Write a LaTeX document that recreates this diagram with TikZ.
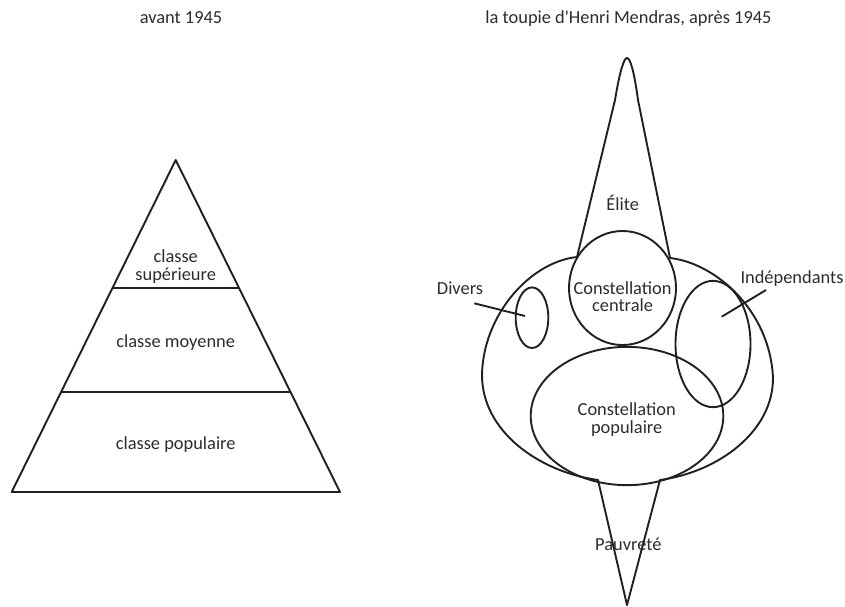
\documentclass[tikz,border=0pt]{standalone}
\usepackage{fontspec}
\setmainfont{Carlito}[Ligatures=TeXOff]
\usetikzlibrary{positioning,shapes.geometric,calc}
\definecolor{inkgray}{HTML}{231F20}
\definecolor{textgray}{HTML}{2C2C2C}

\begin{document}
\begin{tikzpicture}[x=1pt,y=-1pt,line width=1.9pt,line join=round,
  label node/.style={inner sep=0pt,anchor=base,align=center,text=textgray,font=\fontsize{18.4}{17.6}\selectfont},
  group node/.style={ellipse,draw=inkgray,inner sep=0pt,line width=1.9pt}]

  \useasboundingbox (0,0) rectangle (845,606);

  % titres
  \node[label node] (avant) at (181,23.3) {avant 1945};
  \node[label node] (apres) at (628.5,23.3) {la toupie d'Henri Mendras, après 1945};

  % pyramide
  \coordinate (apex) at (175.7,160);
  \coordinate (bl) at (11.7,492);
  \coordinate (br) at (340,492);
  \draw[inkgray] (apex) -- (br) -- (bl) -- cycle;
  \draw[inkgray] ($(apex)!0.385!(bl)$) -- ($(apex)!0.385!(br)$);
  \draw[inkgray] ($(apex)!0.700!(bl)$) -- ($(apex)!0.700!(br)$);

  \node[label node] (sup) at (175.7,280) {classe\\supérieure};
  \node[label node] (moy) at (175.7,347.5) {classe moyenne};
  \node[label node] (pop) at (175.7,449.5) {classe populaire};

  % toupie
  \draw[inkgray] (577,257) .. controls (530,262) and (483,315) .. (482,375)
    .. controls (482,432) and (540,472) .. (598,480) -- (627,605) -- (660,480)
    .. controls (718,472) and (773,432) .. (773,378)
    .. controls (770,310) and (715,263) .. (670,258) -- (638,100)
    .. controls (634,70) and (630,58) .. (627,58)
    .. controls (624,58) and (620,70) .. (615,100) -- cycle;

  \node[group node, minimum width=107, minimum height=114] (centrale) at (622.5,288) {};
  \node[group node, minimum width=32.6, minimum height=60.6] (divers) at (532,317.7) {};
  \node[group node, minimum width=75, minimum height=126.3] (indep) at (713,344) {};
  \node[group node, minimum width=192.6, minimum height=138.3] (populaire) at (627,416) {};

  \node[label node] (elite) at (622.7,210) {Élite};
  \node[label node] (centrale txt) at (622.5,311.7) {Constellation\\centrale};
  \node[label node] (populaire txt) at (626.7,433.3) {Constellation\\populaire};
  \node[label node] (pauvrete) at (628.3,550.7) {Pauvreté};
  \node[label node] (divers txt) at (460,294) {Divers};
  \node[label node] (indep txt) at (792,283.3) {Indépendants};

  \coordinate (divers a) at (474.3,303.3);
  \coordinate (divers b) at (525,316);
  \coordinate (indep a) at (766,290);
  \coordinate (indep b) at (721.7,316.7);
  \path[draw=inkgray]
    (divers a) edge (divers b)
    (indep a) edge (indep b);
\end{tikzpicture}
\end{document}
